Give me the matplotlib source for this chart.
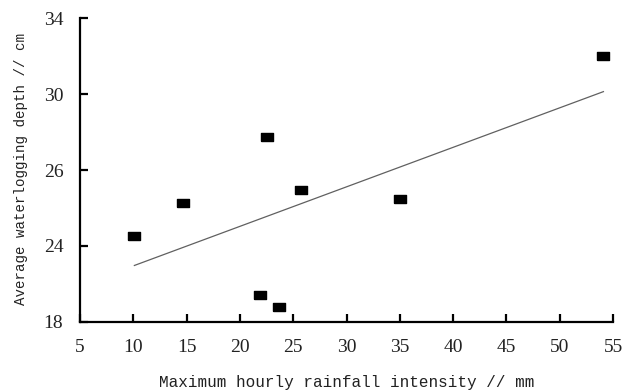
import numpy as np
import matplotlib
matplotlib.use('Agg')
from matplotlib import pyplot as plt

# rainfall intensity (mm) vs waterlogging depth (axis units)
rain = [10.1, 14.7, 22.5, 25.7, 35.0, 21.9, 23.7, 54.1]
depth = [22.54, 24.25, 27.75, 24.96, 24.46, 19.4, 18.81, 32.02]

x_ticks = [5, 10, 15, 20, 25, 30, 35, 40, 45, 50, 55]
y_ticks = [18, 22, 26, 30, 34]
y_tick_labels = ['18', '24', '26', '30', '34']

fig = plt.figure(figsize=(6.27, 3.9), dpi=100)
ax = fig.add_axes([0.1276, 0.1744, 0.8501, 0.7794])

rect = [(-1.6, -1), (1.6, -1), (1.6, 1), (-1.6, 1), (-1.6, -1)]
ax.plot(rain, depth, linestyle='none', marker=rect, markersize=8.2,
        color='black', clip_on=False)

k, b = np.polyfit(rain, depth, 1)
xs = np.array([min(rain), max(rain)])
ax.plot(xs, k * xs + b, color='#606060', linewidth=0.9)

ax.set_xlim(5, 55)
ax.set_ylim(18, 34)
ax.set_xticks(x_ticks)
ax.set_yticks(y_ticks)
ax.set_yticklabels(y_tick_labels)

for s in ['top', 'right']:
    ax.spines[s].set_visible(False)
for s in ['left', 'bottom']:
    ax.spines[s].set_linewidth(1.6)
ax.tick_params(direction='in', length=6, width=1.6, labelsize=14,
               labelcolor='#222222')
ax.tick_params(axis='x', pad=12)
ax.tick_params(axis='y', pad=12)
for lab in ax.get_xticklabels() + ax.get_yticklabels():
    lab.set_family('Liberation Serif')

ax.set_xlabel('Maximum hourly rainfall intensity // mm', family='Liberation Mono',
              fontsize=11.5, color='#222222')
ax.set_ylabel('Average waterlogging depth // cm', family='Liberation Mono',
              fontsize=10.2, color='#222222')
ax.xaxis.set_label_coords(0.5, -0.175)
ax.yaxis.set_label_coords(-0.098, 0.502)

fig.savefig('out.png', dpi=100)
